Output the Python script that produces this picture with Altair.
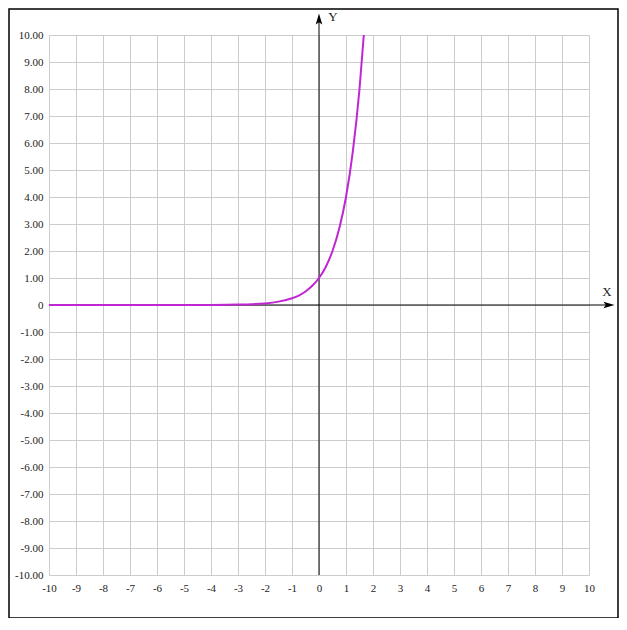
import altair as alt
import pandas as pd

# Curve values
curve_x = [-10, -8, -6, -5, -4, -3, -2.5, -2, -1.5, -1, -0.75, -0.5, -0.25, 0, 0.25, 0.5, 0.75, 1.0, 1.25, 1.5, 1.66]
curve_y = [0.0, 0.0, 0.0, 0.001, 0.004, 0.016, 0.03, 0.06, 0.125, 0.25, 0.35, 0.5, 0.71, 1.0, 1.41, 2.0, 2.83, 4.0, 5.66, 8.0, 10.0]

x_ticks = list(range(-10, 11))
y_ticks = list(range(-10, 11))

curve = pd.DataFrame({"x": curve_x, "y": curve_y})
one = pd.DataFrame({"a": [0]})

serif = "Liberation Serif"
xs = alt.Scale(domain=[-10, 10], nice=False)
ys = alt.Scale(domain=[-10, 10], nice=False)

xaxis = alt.Axis(values=x_ticks, labelPadding=7, title=None,
                 labelExpr="'' + datum.value")
yaxis = alt.Axis(values=y_ticks, labelPadding=6, title=None,
                 labelExpr="datum.value == 0 ? '0' : replace(format(datum.value, '.2f'), '\u2212', '-')")

base_axes = alt.Chart(one).mark_point(opacity=0).encode(
    x=alt.X("a:Q", scale=xs, axis=xaxis),
    y=alt.Y("a:Q", scale=ys, axis=yaxis),
)

y_line = alt.Chart(one).mark_rule(color="black", strokeWidth=1).encode(
    x=alt.X("a:Q", scale=xs, axis=xaxis), y=alt.value(540), y2=alt.value(-14))
x_line = alt.Chart(one).mark_rule(color="black", strokeWidth=1).encode(
    y=alt.Y("a:Q", scale=ys, axis=yaxis), x=alt.value(0), x2=alt.value(558))

up_arrow = alt.Chart(one).mark_point(
    shape="M0,-1L0.6,1L0,0.6L-0.6,1Z", filled=True, color="black", opacity=1, size=120
).encode(x=alt.X("a:Q", scale=xs, axis=xaxis), y=alt.value(-16))
right_arrow = alt.Chart(one).mark_point(
    shape="M1,0L-1,0.6L-0.6,0L-1,-0.6Z", filled=True, color="black", opacity=1, size=120
).encode(y=alt.Y("a:Q", scale=ys, axis=yaxis), x=alt.value(560))

x_label = alt.Chart(one).mark_text(text="X", font=serif, fontSize=13, color="#222222").encode(
    x=alt.value(558), y=alt.value(257))
y_label = alt.Chart(one).mark_text(text="Y", font=serif, fontSize=13, color="#222222").encode(
    x=alt.value(284), y=alt.value(-18))

frame = alt.Chart(one).mark_rect(fill=None, stroke="black", strokeWidth=1.5).encode(
    x=alt.value(-40), x2=alt.value(569), y=alt.value(-26), y2=alt.value(583))

line = alt.Chart(curve).mark_line(color="#c026d3", strokeWidth=2, interpolate="monotone").encode(
    x=alt.X("x:Q", scale=xs, axis=xaxis), y=alt.Y("y:Q", scale=ys, axis=yaxis))

chart = alt.layer(base_axes, y_line, x_line, line, up_arrow, right_arrow, x_label, y_label, frame).properties(
    width=540, height=540,
    autosize=alt.AutoSizeParams(type="none"),
    padding={"left": 41, "top": 27, "right": 30, "bottom": 43},
).configure_view(stroke=None).configure(background="white").configure_axis(
    grid=True, gridColor="#cccccc", gridWidth=1, domain=False, ticks=False,
    labelFont=serif, labelFontSize=11, labelColor="#222222",
    labelFlush=False, labelOverlap=False,
)

chart.save("out.html", embed_options={"renderer": "svg", "actions": False})
